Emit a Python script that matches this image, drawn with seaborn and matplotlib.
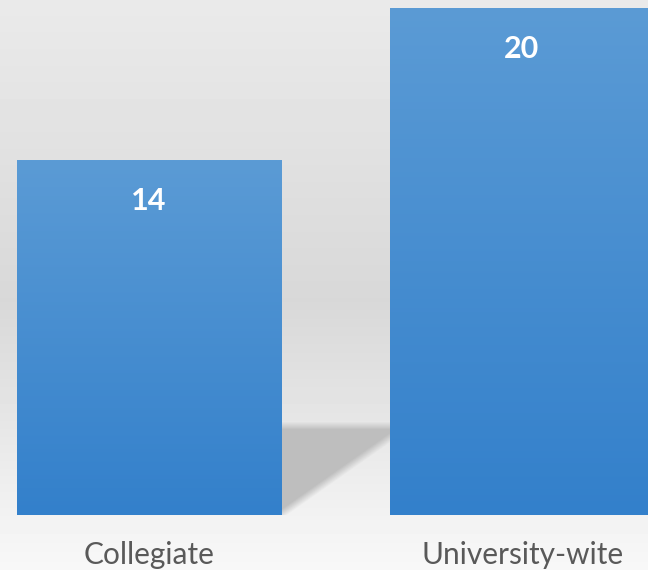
import numpy as np
import pandas as pd
import seaborn as sns
import matplotlib
matplotlib.use("Agg")
import matplotlib.pyplot as plt
from matplotlib.colors import LinearSegmentedColormap

# data
categories = ["Collegiate", "University-wite"]
counts = [14, 20]

sns.set_theme(style="white")
plt.rcParams["font.family"] = ["Lato", "DejaVu Sans"]

W, H, DPI = 648, 570, 100
fig = plt.figure(figsize=(W / DPI, H / DPI), dpi=DPI)

# background: soft grey gradient with a floor shadow between the bars
bg = fig.add_axes([0, 0, 1, 1], zorder=0)
yy, xx = np.mgrid[0:H, 0:W].astype(float)
levels = np.interp(yy, [0, 300, 420, 515, 570], [234, 216, 230, 242, 248])
top_edge = np.clip((yy - 421) / 8.0, 0, 1)
# diagonal lower edge from (390, 437) to (282, 513)
line_y = 437 + (390 - xx) * (513 - 437) / (390 - 282)
diag = np.clip((line_y - yy) / 10.0 + 0.5, 0, 1)
shade = top_edge * diag * (xx > 270) * (yy < 515)
levels = levels - shade * (levels - 190)
bg.imshow(levels / 255.0, cmap="gray", vmin=0, vmax=1, extent=(0, W, H, 0),
          aspect="auto", interpolation="bilinear")
bg.set_axis_off()

# main chart axes
ax = fig.add_axes([0, 55 / H, 1, 1 - 55 / H], zorder=1)
ax.patch.set_alpha(0)
df = pd.DataFrame({"category": categories, "count": counts})
sns.barplot(data=df, x="category", y="count", color="#4a8fd1",
            width=0.71, ax=ax)

ax.set_xlim(-0.4008, 1.3365)
ax.set_ylim(0, 20.315)

# gradient fill for each bar
cmap = LinearSegmentedColormap.from_list("bar", ["#3380cb", "#5b9bd5"])
grad = np.linspace(0, 1, 256).reshape(-1, 1)
for p in ax.patches:
    x0, y0 = p.get_x(), p.get_y()
    w, h = p.get_width(), p.get_height()
    im = ax.imshow(grad, cmap=cmap, origin="lower", aspect="auto",
                   extent=(x0, x0 + w, y0, y0 + h), zorder=2)
    im.set_clip_path(p)
    p.set_facecolor("none")
    p.set_edgecolor("none")
    ax.annotate(f"{h:g}", (x0 + w / 2, y0 + h), xytext=(-1, -41),
                textcoords="offset pixels", ha="center", va="center",
                color="white", fontsize=22, fontweight="bold", zorder=3)

ax.set_xlim(-0.4008, 1.3365)
ax.set_ylim(0, 20.315)
ax.set_xlabel("")
ax.set_ylabel("")
ax.set_yticks([])
ax.tick_params(axis="x", length=0, pad=19, labelsize=21.5, labelcolor="#595959")
sns.despine(ax=ax, left=True, bottom=True)

fig.savefig("out.png", dpi=DPI)
